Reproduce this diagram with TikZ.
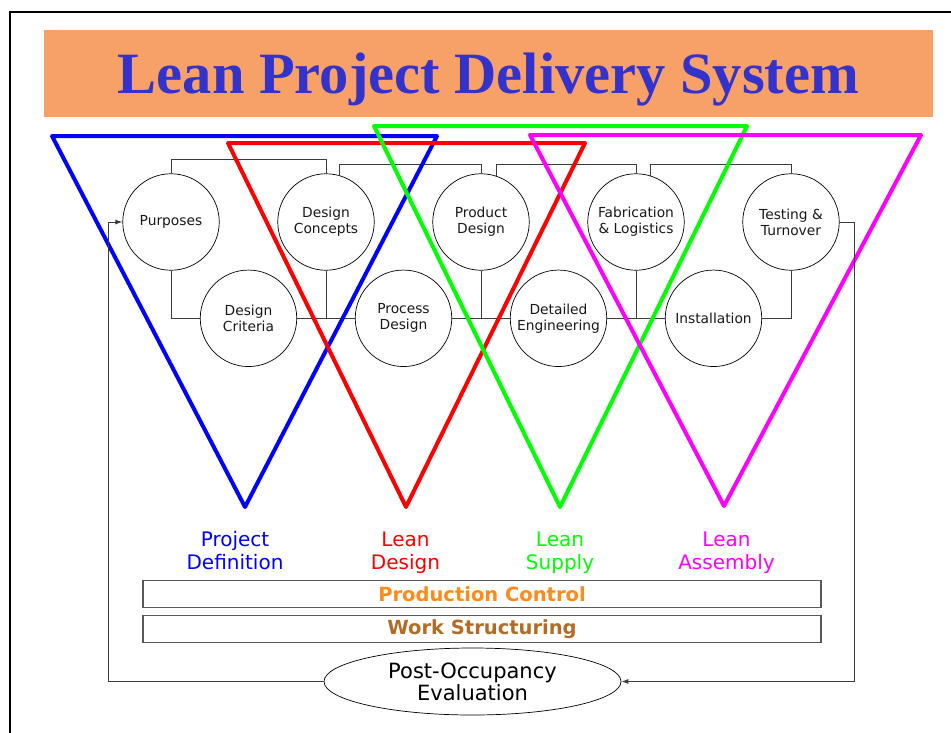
\documentclass[tikz,border=0pt]{standalone}
\usepackage{fontspec}
\setmainfont{Liberation Serif}
\setsansfont{DejaVu Sans}
\usepackage{tikz}
\usetikzlibrary{positioning, shapes.geometric, arrows.meta}

\definecolor{titleblue}{RGB}{51,51,204}
\definecolor{titlebar}{RGB}{247,161,104}
\definecolor{controlorange}{RGB}{255,138,26}
\definecolor{structbrown}{RGB}{178,108,38}
\definecolor{linkgray}{RGB}{60,60,60}
\definecolor{definitionblue}{RGB}{0,0,255}
\definecolor{designred}{RGB}{255,0,0}
\definecolor{supplygreen}{RGB}{0,255,0}
\definecolor{assemblymagenta}{RGB}{255,0,255}

\begin{document}
\begin{tikzpicture}[x=1pt, y=-1pt, node distance=155pt,
  activity/.style={circle, draw, fill=white, line width=0.7pt, minimum size=96.5pt, inner sep=0pt, align=center, text=black!90, font=\sffamily\fontsize{13.8}{16}\selectfont},
  phase/.style={align=center, text depth=0pt, font=\sffamily\fontsize{20}{22.5}\selectfont},
  band/.style={draw=black!65, line width=1.2pt, minimum width=678pt, minimum height=27.5pt, inner sep=0pt, font=\sffamily\bfseries\fontsize{19.5}{22}\selectfont},
  link/.style={draw=linkgray, line width=0.9pt},
  funnel/.style={line width=4pt, line join=round}]

\def\looptip{Latex[length=7pt,width=5pt]}

  \useasboundingbox (0,0) rectangle (951,732);
  \clip (0,0) rectangle (951,732);

  % Frame and title
  \draw[line width=2pt] (10,745) |- (960,12);
  \fill[titlebar] (44,30) rectangle (933,117);
  \node (title) [anchor=base, text=titleblue, font=\fontsize{58.5}{60}\selectfont\bfseries] at (488.5,93) {Lean Project Delivery System};

  % Nodes
  \node (purposes) [activity] at (171,222) {Purposes};
  \node (concepts) [right of=purposes, activity] {Design\\Concepts};
  \node (product) [right of=concepts, activity] {Product\\Design};
  \node (fabrication) [right of=product, activity] {Fabrication\\\& Logistics};
  \node (testing) [right of=fabrication, activity] {Testing \&\\Turnover};

  \node (criteria) [activity] at (248.5,318.3) {Design\\Criteria};
  \node (process) [right of=criteria, activity] {Process\\Design};
  \node (detailed) [right of=process, activity] {Detailed\\Engineering};
  \node (installation) [right of=detailed, activity] {Installation};

  % Links
  \coordinate (railhigh) at (0,159.3);
  \coordinate (raillow) at (0,164.3);
  \draw[link] (purposes.north) |- (railhigh -| concepts.north) -- (concepts.north);
  \draw[link] (concepts.74) |- (raillow -| product.north) -- (product.north);
  \draw[link] (product.71) |- (raillow -| fabrication.north) -- (fabrication.north);
  \draw[link] (fabrication.73) |- (raillow -| testing.north) -- (testing.north);

  \draw[link] (purposes.south) |- (criteria.west);
  \draw[link] (criteria.east) -- (process.west);
  \draw[link] (concepts.south) |- (process.west);
  \draw[link] (process.east) -- (detailed.west);
  \draw[link] (product.south) |- (detailed.west);
  \draw[link] (detailed.east) -- (installation.west);
  \draw[link] (fabrication.south) |- (installation.west);
  \draw[link] (testing.south) |- (installation.east);

  % Phases
  \draw[funnel, draw=definitionblue] (52,136) -- (437,136) -- (245,507) -- cycle;
  \draw[funnel, draw=designred] (228,143) -- (585,143) -- (406,507) -- cycle;
  \draw[funnel, draw=supplygreen] (374,126) -- (747,126) -- (560,507) -- cycle;
  \draw[funnel, draw=assemblymagenta] (530,135) -- (921,135) -- (724,506) -- cycle;

  \node (definition) [phase, text=definitionblue] at (235,550.5) {Project\\Definition};
  \node (leandesign) [phase, text=designred] at (405.5,550.5) {Lean\\Design};
  \node (leansupply) [phase, text=supplygreen] at (560,550.5) {Lean\\Supply};
  \node (leanassembly) [phase, text=assemblymagenta] at (726.5,550.5) {Lean\\Assembly};

  % Bands
  \node (control) [band, text=controlorange] at (482,594) {Production Control};
  \node (structuring) [band, text=structbrown] at (482,629) {Work Structuring};

  % Feedback loop
  \node (evaluation) [draw, ellipse, line width=0.7pt, minimum width=297pt, minimum height=67pt, inner sep=0pt, align=center, font=\sffamily\fontsize{21}{22}\selectfont] at (472.5,681.5) {Post-Occupancy\\Evaluation};
  \coordinate (loopright) at (854,681.5);
  \coordinate (loopleft) at (108.5,681.5);
  \draw[link, -{\looptip}] (testing.east) -| (loopright) -- (evaluation.east);
  \draw[link, -{\looptip}] (evaluation.west) -- (loopleft) |- (purposes.west);

\end{tikzpicture}
\end{document}
